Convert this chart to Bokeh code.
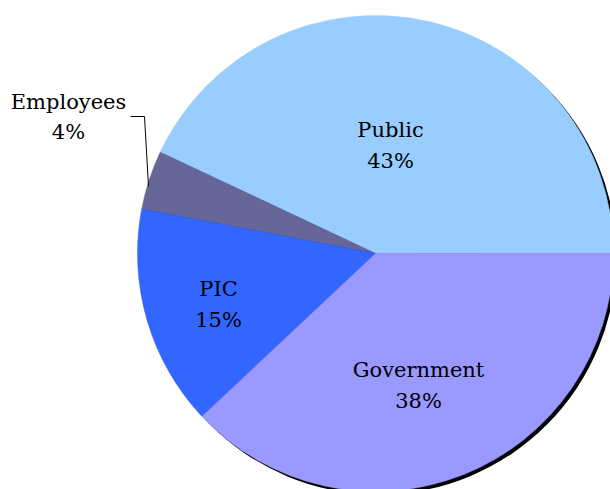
import math
from bokeh.plotting import figure
from bokeh.models import Range1d
from bokeh.core.properties import value
from bokeh.embed import file_html
from bokeh.resources import INLINE

# data
labels = ["Public", "Employees", "PIC", "Government"]
shares = [43, 4, 15, 38]
colors = ["#99CCFF", "#666699", "#3366FF", "#9999FF"]

W, H = 610, 489
p = figure(width=W, height=H, output_backend="svg", toolbar_location=None,
           x_range=Range1d(0, W), y_range=Range1d(0, H), min_border=0)
p.axis.visible = False
p.grid.visible = False
p.outline_line_color = None
p.background_fill_color = "white"
p.border_fill_color = "white"

cx, cy, r = 375, 236, 238

# shadow
p.circle(x=[cx + 3], y=[cy - 3], radius=r, fill_color="black", line_color=None)

total = sum(shares)
starts, ends = [], []
acc = 0.0
for s in shares:
    starts.append(2 * math.pi * acc / total)
    acc += s
    ends.append(2 * math.pi * acc / total)

p.wedge(x=[cx] * len(shares), y=[cy] * len(shares), radius=r,
        start_angle=starts, end_angle=ends, fill_color=colors,
        line_color=colors, line_width=0.5)

# label positions (layout)
name_pos = {"Public": (390, 360), "Employees": (68, 388), "PIC": (218, 201), "Government": (418, 120)}
pct_pos = {"Public": (390, 329), "Employees": (68, 358), "PIC": (218, 170), "Government": (418, 89)}

font = value("DejaVu Serif")
for lab, s in zip(labels, shares):
    nx, ny = name_pos[lab]
    px, py = pct_pos[lab]
    p.text(x=[nx, px], y=[ny, py], text=[lab, f"{s}%"], text_font=font,
           text_font_size="21px", text_align="center", text_baseline="middle",
           text_color="black")

# leader line for Employees
p.line(x=[130, 144, 148], y=[373, 373, 303], line_color="black", line_width=1)

open("out.html", "w").write(file_html(p, INLINE))
